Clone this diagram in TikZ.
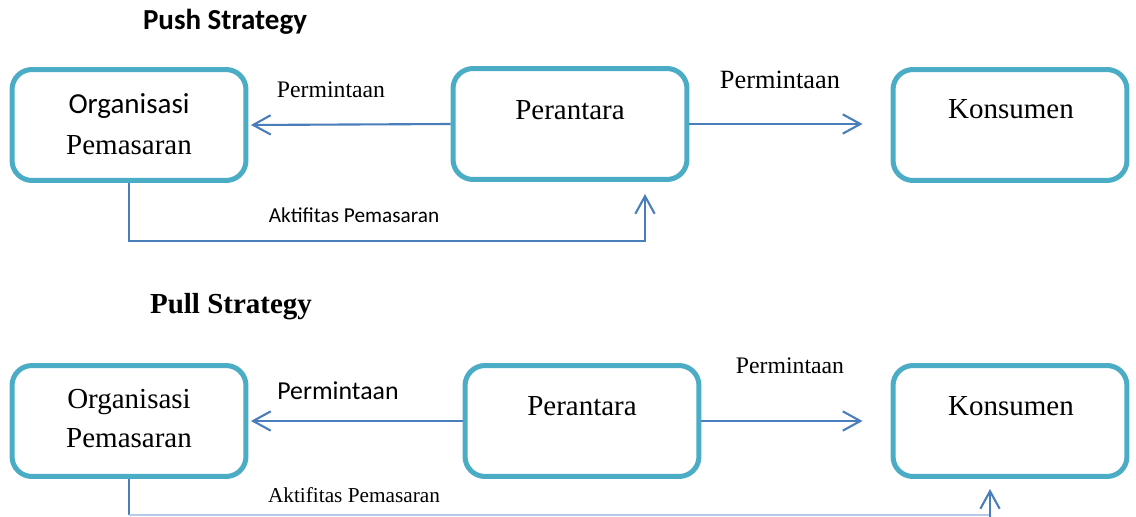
\documentclass[tikz,border=0pt]{standalone}
\usepackage{fontspec}
\setmainfont{Liberation Serif}
\newfontfamily\calibri{Carlito}
\usepackage{xcolor}
\usetikzlibrary{arrows.meta}
\definecolor{boxblue}{RGB}{75,172,198}
\definecolor{lineblue}{RGB}{74,126,187}
\definecolor{paleblue}{RGB}{180,204,232}

\begin{document}
\begin{tikzpicture}[x=0.02cm, y=-0.02cm,
  box/.style={draw=boxblue, line width=2.85pt, rounded corners=0.4cm, minimum width=4.68cm, minimum height=2.22cm},
  txt/.style={anchor=base, inner sep=0pt},
  big/.style={font=\fontsize{16.5}{20}\selectfont},
  small/.style={font=\fontsize{12.1}{14}\selectfont},
  flow/.style={draw=lineblue, line width=1.2pt, shorten >=1.4pt, -{Straight Barb[length=10pt,width=11pt]}}]
\useasboundingbox (0,0) rectangle (1136,517);

% Push strategy
\node[txt, font=\calibri\bfseries\fontsize{16.5}{20}\selectfont] (pushtitle) at (225,30) {Push Strategy};
\node[box] (org1) at (129,125) {};
\node[box] (per1) at (570,124) {};
\node[box] (kon1) at (1010,125) {};
\node[txt, font=\calibri\fontsize{16.5}{20}\selectfont] (org1a) at (129,113) {Organisasi};
\node[txt, big] (org1b) at (129,154) {Pemasaran};
\node[txt, big] (per1t) at (570,120) {Perantara};
\node[txt, big] (kon1t) at (1011,119) {Konsumen};
\node[txt, font=\fontsize{13.5}{16}\selectfont] (req1a) at (331,98) {Permintaan};
\node[txt, font=\fontsize{15}{18}\selectfont] (req1b) at (780,89) {Permintaan};
\node[txt, font=\calibri\fontsize{12.1}{14}\selectfont] (act1) at (354,222) {Aktifitas Pemasaran};
\coordinate (p1tip) at (865,124);
\coordinate (m1) at (645,241);
\coordinate (m1end) at (645,194);

%Lines
\draw[flow] (per1.west) -- (org1.east);
\draw[flow] (per1.east) -- (p1tip);
\draw[flow, shorten >=0pt] (org1.south) |- (m1) -- (m1end);

% Pull strategy
\node[txt, font=\bfseries\fontsize{16.5}{20}\selectfont] (pulltitle) at (231,313) {Pull Strategy};
\node[box] (org2) at (129,421) {};
\node[box] (per2) at (582,421) {};
\node[box] (kon2) at (1010,421) {};
\node[txt, big] (org2a) at (129,408) {Organisasi};
\node[txt, big] (org2b) at (129,447) {Pemasaran};
\node[txt, big] (per2t) at (582,415) {Perantara};
\node[txt, big] (kon2t) at (1011,415) {Konsumen};
\node[txt, font=\calibri\fontsize{14.7}{17}\selectfont] (req2a) at (338,399) {Permintaan};
\node[txt, font=\fontsize{13.5}{16}\selectfont] (req2b) at (790,373) {Permintaan};
\node[txt, small] (act2) at (354,502) {Aktifitas Pemasaran};
\coordinate (p2tip) at (865,421);
\coordinate (m2) at (990,515);
\coordinate (m2end) at (990,489);

%Lines
\draw[flow] (per2.west) -- (org2.east);
\draw[flow] (per2.east) -- (p2tip);
\draw[lineblue, line width=1.2pt] (org2.south) -- (org2.south |- m2);
\draw[paleblue, line width=1pt] (org2.south |- m2) -- (m2);
\draw[flow, shorten >=0pt] (990,517) -- (m2end);
\end{tikzpicture}
\end{document}
